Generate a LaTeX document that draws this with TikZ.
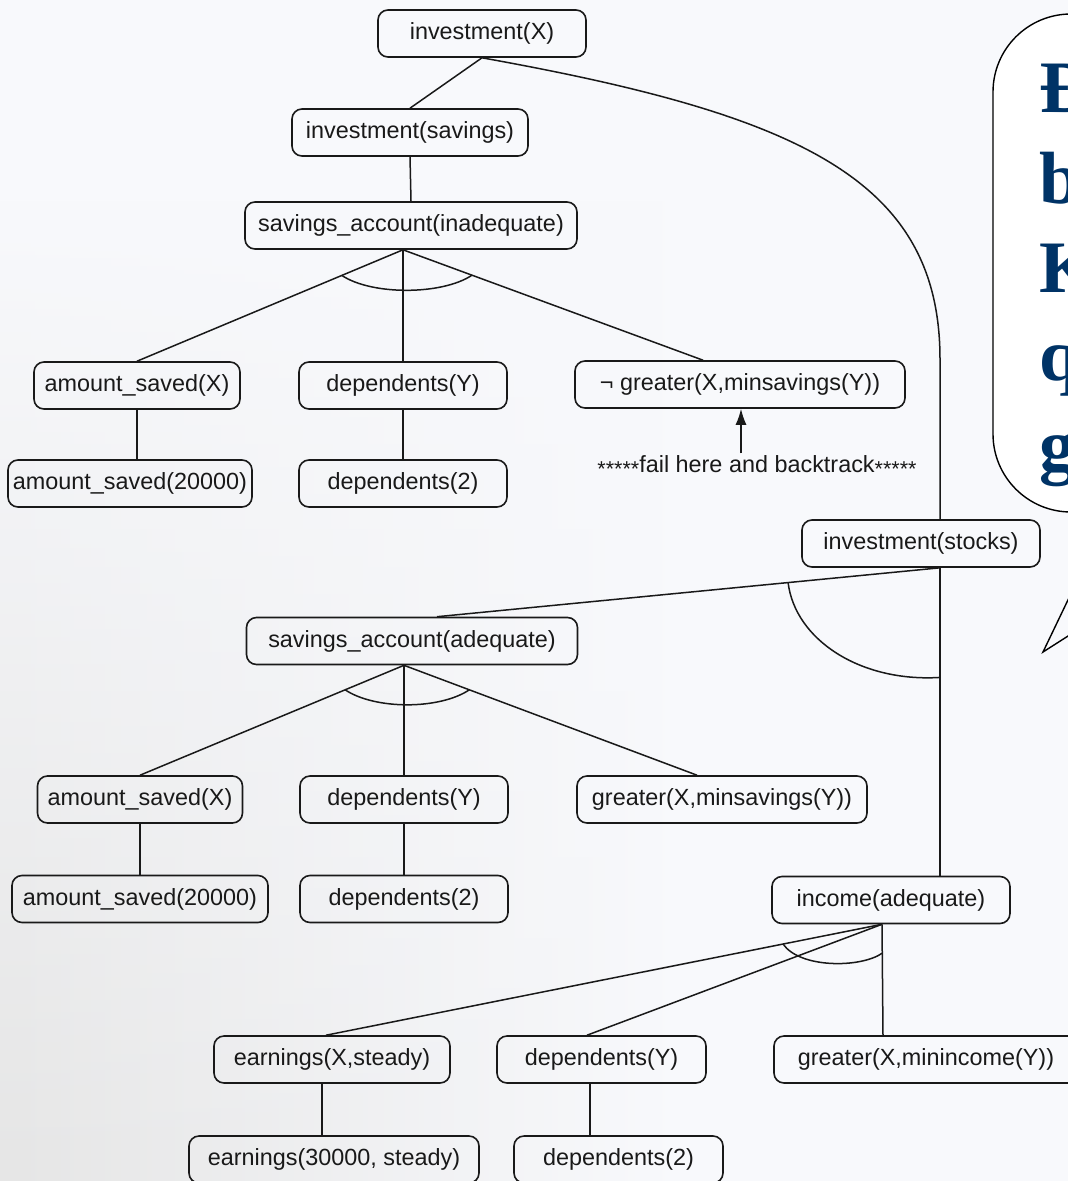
\documentclass[tikz,border=0pt]{standalone}
\usepackage{fontspec}
\setmainfont{Liberation Sans}
\newfontfamily\calloutfont{Liberation Serif}
\usetikzlibrary{calc,arrows.meta,fadings}
\definecolor{pagebg}{RGB}{248,249,252}
\definecolor{ink}{RGB}{25,25,25}
\definecolor{navy}{RGB}{0,51,102}
\newcommand{\stars}{\raisebox{-4pt}{\fontsize{21.5}{21.5}\selectfont *****}}
\tikzset{
  goal/.style={draw=ink, line width=1.6pt, rounded corners=10pt,
    minimum height=47pt, inner sep=0pt, text=ink,
    font=\fontsize{23.4}{28}\selectfont},
  link/.style={draw=ink, line width=1.5pt},
  note/.style={text=ink, inner sep=2pt, font=\fontsize{23.4}{28}\selectfont},
  bubble/.style={draw=black, line width=1.4pt, fill=white, rounded corners=78pt},
  bubbletext/.style={anchor=base west, inner sep=0pt, text=navy,
    font=\calloutfont\bfseries\fontsize{74}{80}\selectfont},
}
\begin{document}
\begin{tikzpicture}[x=1pt,y=-1pt]
\useasboundingbox (0,0) rectangle (1068,1181);
\fill[pagebg] (0,0) rectangle (1068,1181);
% greyish tone of the scanned page, fading out towards the top
\shade[left color=black!10, right color=pagebg, path fading=north]
  (0,200) rectangle (680,1181);

% ---- goal nodes ----
\node[goal, minimum width=208pt] (n1) at (482,33.5) {investment(X)};
\node[goal, minimum width=236pt] (n2) at (410,132.5) {investment(savings)};
\node[goal, minimum width=332pt] (n3) at (411,225.5) {savings\_account(inadequate)};
\node[goal, minimum width=206pt] (n4) at (137,385.5) {amount\_saved(X)};
\node[goal, minimum width=208pt] (n5) at (403,385.5) {dependents(Y)};
\node[goal, minimum width=330pt] (n6) at (740,384.5) {¬ greater(X,minsavings(Y))};
\node[goal, minimum width=244pt] (n7) at (130,483.5) {amount\_saved(20000)};
\node[goal, minimum width=208pt] (n8) at (403,483.5) {dependents(2)};
\node[note] (fail) at (757,466) {\stars fail here and backtrack\stars};

\node[goal, minimum width=238pt] (n10) at (921,543.5) {investment(stocks)};
\node[goal, minimum width=331pt] (n11) at (412,641) {savings\_account(adequate)};
\node[goal, minimum width=205pt] (n12) at (140,799.5) {amount\_saved(X)};
\node[goal, minimum width=208pt] (n13) at (404,799.5) {dependents(Y)};
\node[goal, minimum width=290pt] (n14) at (722,799.5) {greater(X,minsavings(Y))};
\node[goal, minimum width=256pt] (n15) at (140,899) {amount\_saved(20000)};
\node[goal, minimum width=208pt] (n16) at (404,899) {dependents(2)};
\node[goal, minimum width=238pt] (n17) at (891,900) {income(adequate)};
\node[goal, minimum width=236pt] (n18) at (332,1059.5) {earnings(X,steady)};
\node[goal, minimum width=209pt] (n19) at (601.5,1059.5) {dependents(Y)};
\node[goal, minimum width=304pt] (n20) at (926,1059.5) {greater(X,minincome(Y))};
\node[goal, minimum width=290pt] (n21) at (334,1159.5) {earnings(30000, steady)};
\node[goal, minimum width=209pt] (n22) at (618.5,1159.5) {dependents(2)};

% ---- attachment points ----
\coordinate (s10) at ($(n10.north)+(19,0)$);
\coordinate (s10b) at ($(n10.south)+(19,0)$);
\coordinate (h1) at (n5.north |- n3.south);
\coordinate (g6) at ($(n6.north)+(-37,0)$);
\coordinate (t11) at ($(n11.north)+(25,0)$);
\coordinate (h2) at (n13.north |- n11.south);
\coordinate (g14) at ($(n14.north)+(-25,0)$);
\coordinate (h3) at ($(n17.south)+(-9,0)$);
\coordinate (e18) at ($(n18.north)+(-6,0)$);
\coordinate (e19) at ($(n19.north)+(-14.5,0)$);
\coordinate (e20) at ($(n20.north)+(-43,0)$);
\coordinate (i17) at (s10b |- n17.north);
\coordinate (ftip) at ($(n6.south)+(1,0)$);
\coordinate (b18) at ($(n18.south)+(-10,0)$);
\coordinate (b19) at ($(n19.south)+(-11.75,0)$);

% ---- investment(X) branches ----
\draw[link] (n1.south) -- (n2.north);
\draw[link] (n1.south) .. controls +(317,57) and +(0,-180) .. ($(s10)+(0,-160)$) -- (s10);

% ---- savings branch ----
\draw[link] (n2.south) -- (n3.north);
\draw[link] (h1) -- (n4.north);
\draw[link] (h1) -- (n5.north);
\draw[link] (h1) -- (g6);
\draw[link] ($(h1)!0.23!(n4.north)$) .. controls +(30,20) and +(-30,20) .. ($(h1)!0.23!(g6)$);
\draw[link] (n4.south) -- (n4.south |- n7.north);
\draw[link] (n5.south) -- (n8.north);
\draw[link, -{Latex[length=16pt,width=11pt]}] (ftip |- fail.north) -- (ftip);

% ---- stocks branch ----
\draw[link] (s10b) -- (t11);
\draw[link] (s10b) -- (i17);
\draw[link] ($(s10b)!0.302!(t11)$) .. controls +(7,57) and +(-80,5) .. ($(s10b)!0.356!(i17)$);

\draw[link] (h2) -- (n12.north);
\draw[link] (h2) -- (n13.north);
\draw[link] (h2) -- (g14);
\draw[link] ($(h2)!0.223!(n12.north)$) .. controls +(30,20) and +(-30,20) .. ($(h2)!0.223!(g14)$);
\draw[link] (n12.south) -- (n12.south |- n15.north);
\draw[link] (n13.south) -- (n16.north);

% ---- income branch ----
\draw[link] (h3) -- (e18);
\draw[link] (h3) -- (e19);
\draw[link] (h3) -- (e20);
\draw[link] ($(h3)!0.178!(e18)$) .. controls +(17,24.5) and +(-21.5,15) .. ($(h3)!0.26!(e20)$);
\draw[link] (b18) -- (b18 |- n21.north);
\draw[link] (b19) -- (b19 |- n22.north);

% ---- speech bubble ----
\begin{scope}
\clip (0,0) rectangle (1068,1181);
\path[bubble] (1200,14) -- (993,14) -- (993,512) -- (1200,512);
\draw[line width=1.4pt] (1090,554) -- (1043,652) -- (1090,622);
\foreach \ch/\by [count=\i] in {Đ/112, b/203, K/292, q/380, g/470}
  \node[bubbletext] (c\i) at (1039,\by) {\ch};
\end{scope}
\end{tikzpicture}
\end{document}
